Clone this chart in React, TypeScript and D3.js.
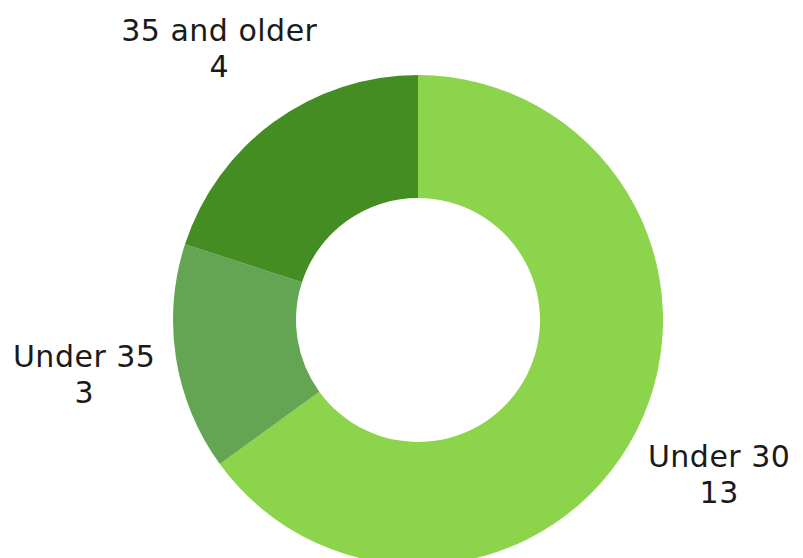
import React from 'react';
import * as d3 from 'd3';

const categories = ['Under 30', 'Under 35', '35 and older'];
const values = [13, 3, 4];
const colors = ['#8BD44B', '#63A552', '#448D22'];

type Slice = { name: string; value: number; color: string };

const App = () => {
  const width = 803;
  const height = 558;
  const cx = 418;
  const cy = 320;
  const outer = 245;
  const inner = 122;

  const data: Slice[] = categories.map((name, i) => ({
    name,
    value: values[i],
    color: colors[i],
  }));

  const pie = d3.pie<Slice>().value(d => d.value).sort(null);
  const arcs = pie(data);

  const arc = d3.arc<d3.PieArcDatum<Slice>>()
    .innerRadius(inner)
    .outerRadius(outer);

  const labelArc = d3.arc<d3.PieArcDatum<Slice>>()
    .innerRadius(338)
    .outerRadius(338);

  const textProps = {
    textAnchor: 'middle' as const,
    fontFamily: "'DejaVu Sans', sans-serif",
    fontSize: 30,
    letterSpacing: 0.5,
    fill: '#1a1a1a',
  };

  return (
    <svg
      width={width}
      height={height}
      style={{ position: 'absolute', left: 0, top: 0, background: '#fff' }}
    >
      <g transform={`translate(${cx},${cy})`}>
        {arcs.map(d => (
          <path key={d.data.name} d={arc(d) || ''} fill={d.data.color} />
        ))}
        {arcs.map(d => {
          const [x, y] = labelArc.centroid(d);
          return (
            <g key={'l' + d.data.name}>
              <text x={x} y={y - 6} {...textProps}>{d.data.name}</text>
              <text x={x} y={y + 30} {...textProps}>{d.data.value}</text>
            </g>
          );
        })}
      </g>
    </svg>
  );
};

export default App;
